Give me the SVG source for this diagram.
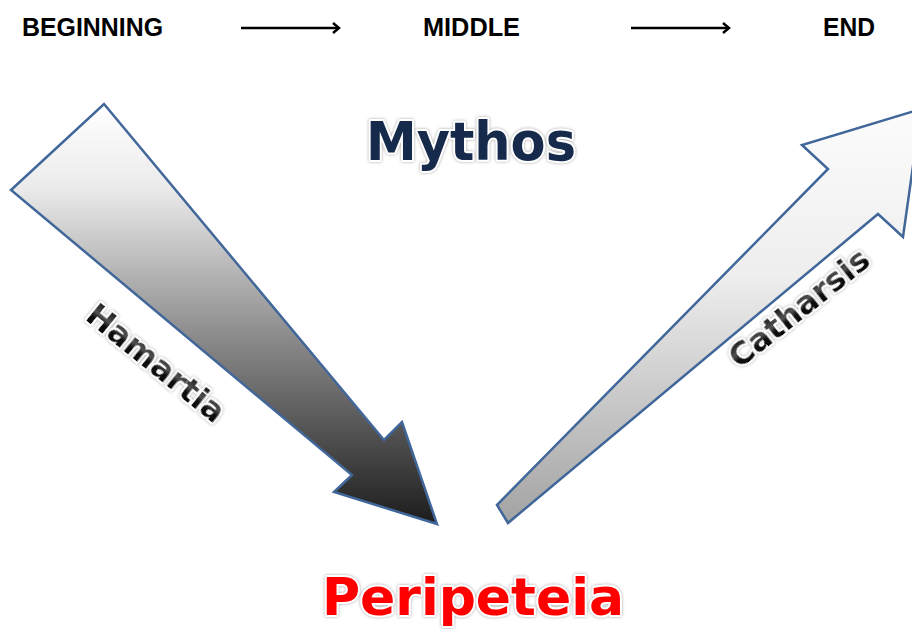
<svg xmlns="http://www.w3.org/2000/svg" width="912" height="629" viewBox="0 0 912 629">
<style>
.lbl{font-family:"Liberation Sans",Arial,sans-serif;font-weight:bold;font-size:25px;fill:#000}
.flow{stroke:#000;stroke-width:2.5;fill:none}
.shape{stroke:#41679a;stroke-width:2.5;stroke-linejoin:miter}
.art{font-family:"DejaVu Sans",Verdana,sans-serif;font-weight:bold;stroke:#fff;stroke-width:4;paint-order:stroke;stroke-linejoin:round;filter:url(#glow)}
</style>
<defs>
<marker id="open" viewBox="0 0 12 12" refX="10" refY="6" markerWidth="12" markerHeight="12" markerUnits="userSpaceOnUse" orient="auto">
<path d="M4,1 L10,6 L4,11" fill="none" stroke="#000" stroke-width="2.5"/>
</marker>
<linearGradient id="gLeft" gradientUnits="userSpaceOnUse" x1="0" y1="104" x2="0" y2="524">
<stop offset="0" stop-color="#ffffff"/>
<stop offset="0.2" stop-color="#ebebeb"/>
<stop offset="0.55" stop-color="#8c8c8c"/>
<stop offset="1" stop-color="#1c1c1c"/>
</linearGradient>
<linearGradient id="gRight" gradientUnits="userSpaceOnUse" x1="0" y1="109" x2="0" y2="523">
<stop offset="0" stop-color="#fcfcfc"/>
<stop offset="0.4" stop-color="#eeeeee"/>
<stop offset="1" stop-color="#a3a3a3"/>
</linearGradient>
<linearGradient id="gText" x1="0" y1="0" x2="0" y2="1">
<stop offset="0" stop-color="#000"/>
<stop offset="0.45" stop-color="#505050"/>
<stop offset="0.6" stop-color="#0a0a0a"/>
<stop offset="1" stop-color="#000"/>
</linearGradient>
<filter id="glow" x="-10%" y="-30%" width="120%" height="160%">
<feDropShadow dx="0" dy="0" stdDeviation="1.6" flood-color="#9a9a9a" flood-opacity="0.9"/>
</filter>
</defs>

<g id="top-labels">
<text class="lbl" x="22" y="36" textLength="141" lengthAdjust="spacingAndGlyphs">BEGINNING</text>
<text class="lbl" x="423" y="36" textLength="97" lengthAdjust="spacingAndGlyphs">MIDDLE</text>
<text class="lbl" x="823" y="36" textLength="52" lengthAdjust="spacingAndGlyphs">END</text>
</g>

<g id="connectors">
<line class="flow" x1="241" y1="28" x2="339" y2="28" marker-end="url(#open)"/>
<line class="flow" x1="631" y1="28" x2="729" y2="28" marker-end="url(#open)"/>
</g>

<g id="hamartia-arrow">
<polygon class="shape" fill="url(#gLeft)" points="104,104 384,440 402,422 437,524 334,492 352,475 11,190"/>
</g>

<g id="catharsis-arrow">
<polygon class="shape" fill="url(#gRight)" points="497,505 828,169 802,145 921,109 903,237 878,214 508,523"/>
</g>

<g id="mythos">
<text class="art" x="471" y="160" font-size="53" fill="#13294b" text-anchor="middle" textLength="210" lengthAdjust="spacingAndGlyphs">Mythos</text>
</g>

<g id="hamartia">
<text class="art" x="156" y="374" font-size="32" fill="url(#gText)" text-anchor="middle" textLength="168" lengthAdjust="spacingAndGlyphs" transform="rotate(39 156 363)">Hamartia</text>
</g>

<g id="catharsis">
<text class="art" x="799" y="319" font-size="32" fill="url(#gText)" text-anchor="middle" textLength="170" lengthAdjust="spacingAndGlyphs" transform="rotate(-38.5 799 308)">Catharsis</text>
</g>

<g id="peripeteia">
<text class="art" x="473" y="615" font-size="52" fill="#ff0000" text-anchor="middle" textLength="302" lengthAdjust="spacingAndGlyphs">Peripeteia</text>
</g>
</svg>
